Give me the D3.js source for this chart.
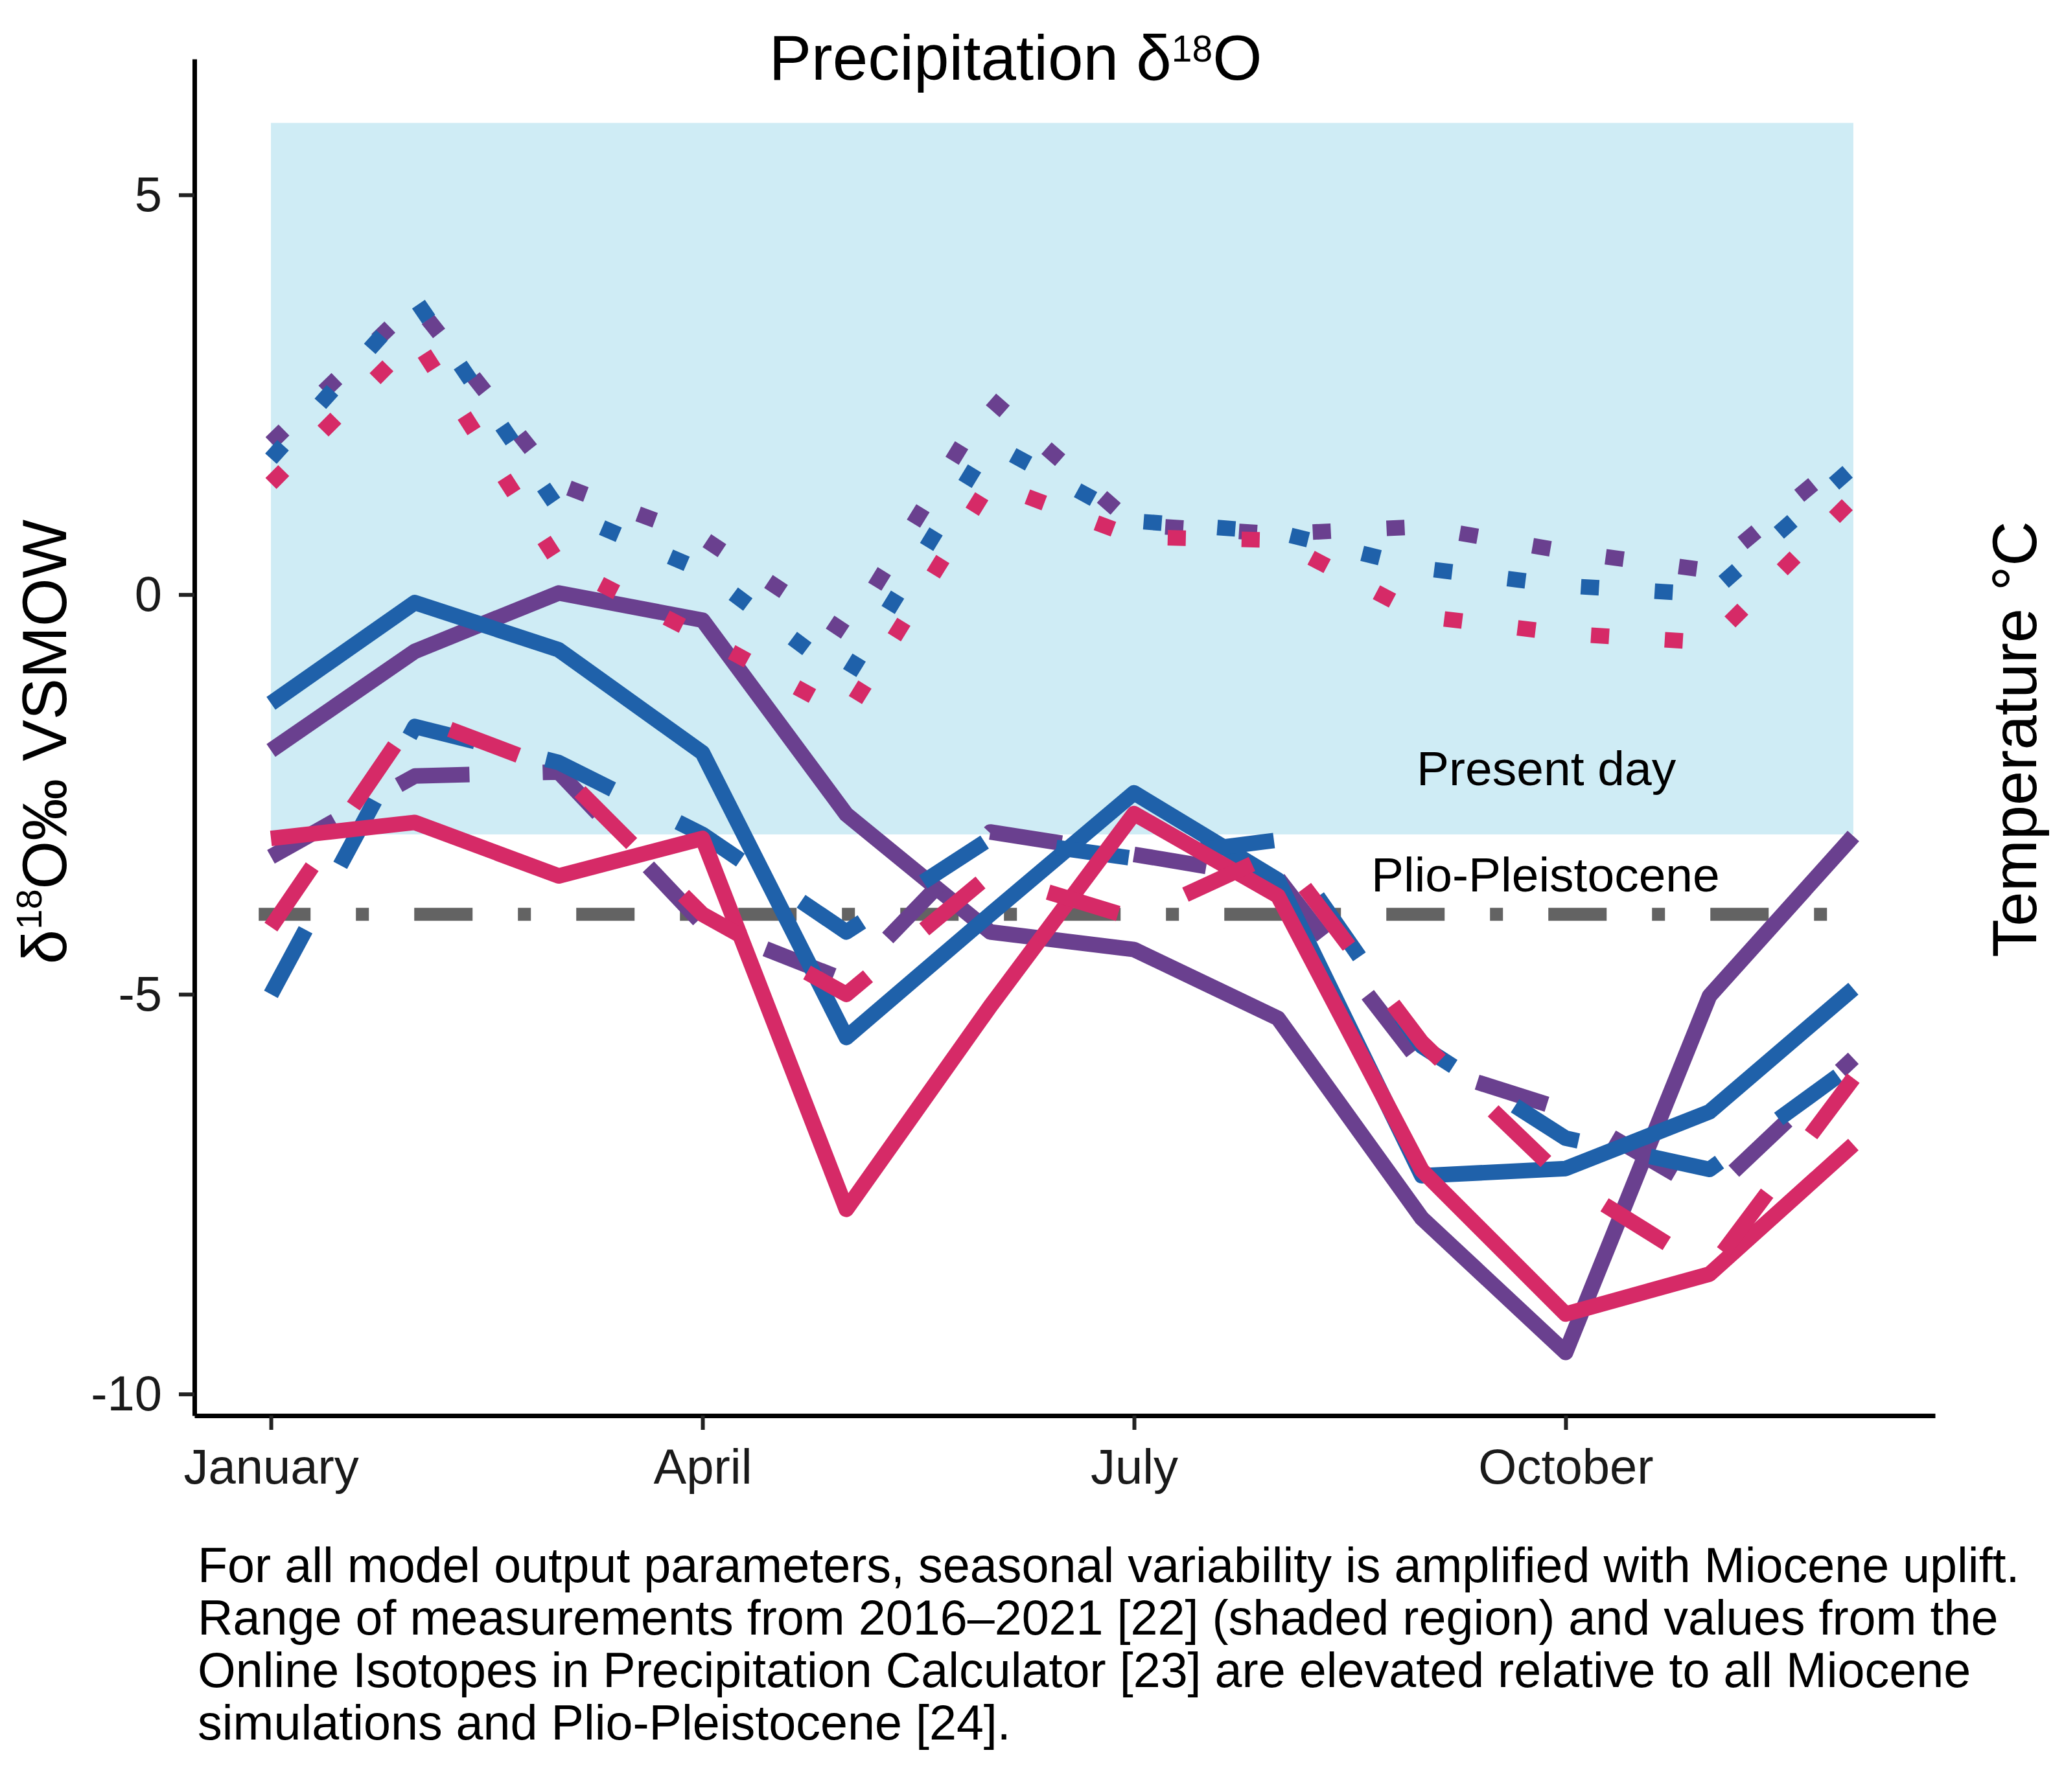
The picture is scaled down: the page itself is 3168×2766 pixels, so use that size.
<!DOCTYPE html>
<html><head><meta charset="utf-8">
<script src="https://cdn.jsdelivr.net/npm/d3@7"></script>
<style>body{margin:0;background:#fff}</style>
</head><body>
<svg id="chart" width="3168" height="2766"></svg>
<script>
// ---- data ----
const months = ["Jan","Feb","Mar","Apr","May","Jun","Jul","Aug","Sep","Oct","Nov","Dec"];
const xTickMonths = [0, 3, 6, 9];
const xTickLabels = ["January", "April", "July", "October"];
const yTicks = [-10, -5, 0, 5];
const presentDayRange = [-3.0, 5.9];
const plioPleistocene = -4.0;
const plioSpan = [-0.085, 11];

const purpleSolid  = [-1.95, -0.71, 0.02, -0.32, -2.75, -4.22, -4.44, -5.30, -7.80, -9.48, -5.02, -3.02];
const purpleDashed = [-3.28, -2.27, -2.22, -4.12, -4.83, -2.97, -3.25, -3.55, -5.88, -6.45, -7.50, -5.80];
const purpleDotted = [1.90, 3.65, 1.38, 0.71, -0.48, 2.45, 0.87, 0.76, 0.85, 0.54, 0.30, 1.80];
const blueSolid    = [-1.36, -0.10, -0.69, -1.98, -5.54, -4.00, -2.48, -3.57, -7.27, -7.18, -6.47, -4.93];
const blueDashed   = [-5.00, -1.65, -2.10, -3.00, -4.22, -3.05, -3.30, -3.07, -5.65, -6.80, -7.19, -5.88];
const blueDotted   = [1.70, 3.70, 1.07, 0.30, -1.05, 1.90, 0.92, 0.78, 0.33, 0.11, 0.00, 1.60];
const pinkSolid    = [-3.05, -2.85, -3.52, -3.05, -7.69, -5.15, -2.74, -3.77, -7.20, -9.00, -8.50, -6.88];
const pinkDashed   = [-4.16, -1.52, -2.20, -4.00, -5.00, -3.50, -4.05, -3.22, -5.60, -7.33, -8.45, -6.05];
const pinkDotted   = [1.39, 3.20, 0.40, -0.52, -1.50, 1.40, 0.72, 0.68, -0.27, -0.49, -0.60, 1.20];

const captionLines = [
  "For all model output parameters, seasonal variability is amplified with Miocene uplift.",
  "Range of measurements from 2016\u20132021 [22] (shaded region) and values from the",
  "Online Isotopes in Precipitation Calculator [23] are elevated relative to all Miocene",
  "simulations and Plio-Pleistocene [24]."
];

// ---- styles ----
const colors = {purple: "#6a408f", blue: "#1f61aa", pink: "#d62a67"};
const dashes = {solid: null, dashed: "113 113", dotted: "28 86"};
const series = [
  {v: purpleSolid, c: "purple", t: "solid"},
  {v: purpleDashed, c: "purple", t: "dashed"},
  {v: purpleDotted, c: "purple", t: "dotted"},
  {v: blueSolid, c: "blue", t: "solid"},
  {v: blueDashed, c: "blue", t: "dashed"},
  {v: blueDotted, c: "blue", t: "dotted"},
  {v: pinkSolid, c: "pink", t: "solid"},
  {v: pinkDashed, c: "pink", t: "dashed"},
  {v: pinkDotted, c: "pink", t: "dotted"}
];

const FONT = "'Liberation Sans', Arial, Helvetica, sans-serif";
const svg = d3.select("#chart").style("font-family", FONT);

const x = d3.scaleLinear().domain([-0.532, 11.568]).range([300, 2986]);
const y = d3.scaleLinear().domain([-10.27, 6.70]).range([2185, 91]);

// shaded present-day range
svg.append("rect")
  .attr("x", x(0)).attr("width", x(months.length - 1) - x(0))
  .attr("y", y(presentDayRange[1])).attr("height", y(presentDayRange[0]) - y(presentDayRange[1]))
  .attr("fill", "#cfecf5");

// Plio-Pleistocene reference line
svg.append("path")
  .attr("d", d3.line().x(d => x(d)).y(() => y(plioPleistocene))(plioSpan))
  .attr("fill", "none").attr("stroke", "#636363").attr("stroke-width", 20)
  .attr("stroke-dasharray", "90 70 20 70").attr("stroke-dashoffset", 10);

// series
const line = d3.line().x((d, i) => x(i)).y(d => y(d));
series.forEach(s => {
  svg.append("path")
    .attr("d", line(s.v))
    .attr("fill", "none")
    .attr("stroke", colors[s.c])
    .attr("stroke-width", 24)
    .attr("stroke-linejoin", "round")
    .attr("stroke-linecap", "butt")
    .attr("stroke-dasharray", dashes[s.t]);
});

// axes
const yAxis = svg.append("g").attr("transform", "translate(300,0)")
  .call(d3.axisLeft(y).tickValues(yTicks).tickSize(24).tickSizeOuter(0).tickPadding(26).tickFormat(d => String(d)));
const xAxis = svg.append("g").attr("transform", "translate(0,2185)")
  .call(d3.axisBottom(x).tickValues(xTickMonths).tickSize(22).tickSizeOuter(0).tickPadding(29)
    .tickFormat((d, i) => xTickLabels[i]));
[yAxis, xAxis].forEach(g => {
  g.select(".domain").attr("stroke", "#000").attr("stroke-width", 7);
  g.selectAll(".tick line").attr("stroke", "#222").attr("stroke-width", 6);
  g.selectAll(".tick text").attr("fill", "#1a1a1a").style("font-size", "76px").style("font-family", FONT);
});

// title
const title = svg.append("text").attr("x", 1567).attr("y", 123).attr("text-anchor", "middle")
  .style("font-size", "98px").attr("fill", "#000");
title.append("tspan").text("Precipitation \u03b4");
title.append("tspan").text("18").style("font-size", "57px").attr("dy", -28);
title.append("tspan").text("O").attr("dy", 28);

// y axis title
const yl = svg.append("text").attr("transform", "translate(102,1145) rotate(-90)")
  .attr("text-anchor", "middle").style("font-size", "96px").attr("fill", "#000");
yl.append("tspan").text("\u03b4");
yl.append("tspan").text("18").style("font-size", "56px").attr("dy", -38);
yl.append("tspan").text("O\u2030 VSMOW").attr("dy", 38);

// right title
svg.append("text").attr("transform", "translate(3142,1141) rotate(-90)")
  .attr("text-anchor", "middle").style("font-size", "96px").attr("fill", "#000")
  .text("Temperature \u00b0C");

// annotations
svg.append("text").attr("x", 2186).attr("y", 1212).style("font-size", "75px").attr("fill", "#000").text("Present day");
svg.append("text").attr("x", 2116).attr("y", 1376).style("font-size", "75px").attr("fill", "#000").text("Plio-Pleistocene");

// caption
svg.append("g").selectAll("text").data(captionLines).join("text")
  .attr("x", 305).attr("y", (d, i) => 2442 + i * 81)
  .style("font-size", "75.5px").attr("fill", "#000").text(d => d);
</script>
</body></html>
